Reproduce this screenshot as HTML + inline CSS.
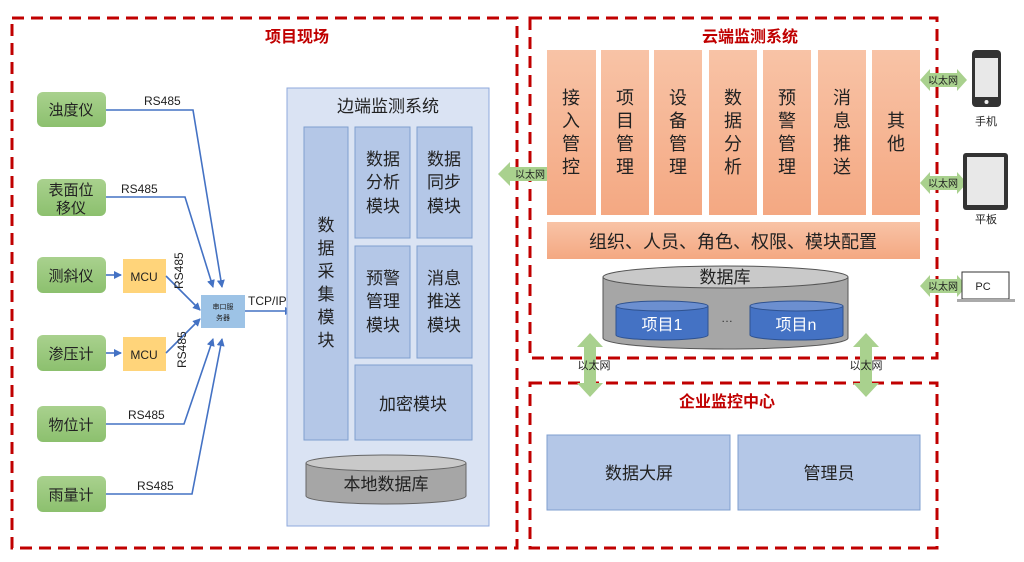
<!DOCTYPE html>
<html><head><meta charset="utf-8"><style>
html,body{margin:0;padding:0;background:#fff;}
svg{display:block;font-family:"Liberation Sans","Noto Sans CJK SC",sans-serif;}
</style></head><body>
<svg width="1024" height="562" viewBox="0 0 1024 562" xmlns="http://www.w3.org/2000/svg">
<defs>
<linearGradient id="gr" x1="0" y1="0" x2="0" y2="1"><stop offset="0" stop-color="#a9d18e"/><stop offset="1" stop-color="#8cc06e"/></linearGradient>
<linearGradient id="or" x1="0" y1="0" x2="0" y2="1"><stop offset="0" stop-color="#f8c3a6"/><stop offset="1" stop-color="#f4a882"/></linearGradient>
<marker id="ah" markerWidth="8" markerHeight="8" refX="7" refY="4" orient="auto" markerUnits="userSpaceOnUse"><path d="M0,0 L8,4 L0,8 z" fill="#4472c4"/></marker>
</defs>
<rect x="0" y="0" width="1024" height="562" fill="#fff"/>
<!-- dashed boxes -->
<g fill="none" stroke="#c00000" stroke-width="3" stroke-dasharray="12,7">
<rect x="12" y="18" width="505" height="530"/>
<rect x="530" y="18" width="407" height="340"/>
<rect x="530" y="383" width="407" height="165"/>
</g>
<g fill="#c00000" font-weight="bold" font-size="16" text-anchor="middle">
<text x="297" y="42">项目现场</text>
<text x="750" y="42">云端监测系统</text>
<text x="727" y="407">企业监控中心</text>
</g>
<!-- sensors -->
<g fill="url(#gr)">
<rect x="37" y="92" width="69" height="35" rx="6"/>
<rect x="37" y="179" width="69" height="37" rx="6"/>
<rect x="37" y="257" width="69" height="36" rx="6"/>
<rect x="37" y="335" width="69" height="36" rx="6"/>
<rect x="37" y="406" width="69" height="36" rx="6"/>
<rect x="37" y="476" width="69" height="36" rx="6"/>
</g>
<g font-size="15" text-anchor="middle" fill="#222">
<text x="71" y="115">浊度仪</text>
<text x="71" y="195">表面位</text><text x="71" y="213">移仪</text>
<text x="71" y="281">测斜仪</text>
<text x="71" y="359">渗压计</text>
<text x="71" y="430">物位计</text>
<text x="71" y="500">雨量计</text>
</g>
<rect x="123" y="259" width="43" height="34" fill="#ffd47a"/>
<rect x="123" y="337" width="43" height="34" fill="#ffd47a"/>
<g font-size="12" text-anchor="middle" fill="#222"><text x="144" y="281">MCU</text><text x="144" y="359">MCU</text></g>
<rect x="201" y="295" width="44" height="33" fill="#9dc3e6"/>
<g font-size="7" text-anchor="middle" fill="#222"><text x="223" y="309">串口服</text><text x="223" y="320">务器</text></g>
<!-- lines -->
<g fill="none" stroke="#4472c4" stroke-width="1.6" marker-end="url(#ah)">
<polyline points="106,110 193,110 222,287"/>
<polyline points="106,197 185,197 213,287"/>
<polyline points="106,275 121,275"/>
<polyline points="106,353 121,353"/>
<polyline points="166,276 200,310"/>
<polyline points="166,353 200,319"/>
<polyline points="106,424 184,424 213,339"/>
<polyline points="106,494 192,494 222,339"/>
<polyline points="245,311 292,311"/>
</g>
<g font-size="12" fill="#222">
<text x="144" y="105">RS485</text>
<text x="121" y="193">RS485</text>
<text x="128" y="419">RS485</text>
<text x="137" y="490">RS485</text>
<text x="248" y="305">TCP/IP</text>
<text transform="translate(183,289) rotate(-90)">RS485</text>
<text transform="translate(186,368) rotate(-90)">RS485</text>
</g>
<!-- edge system -->
<rect x="287" y="88" width="202" height="438" fill="#dae3f3" stroke="#8faadc"/>
<text x="388" y="112" font-size="17" text-anchor="middle" fill="#222">边端监测系统</text>
<g fill="#b4c7e7" stroke="#7f9fcf">
<rect x="304" y="127" width="44" height="313"/>
<rect x="355" y="127" width="55" height="111"/>
<rect x="417" y="127" width="55" height="111"/>
<rect x="355" y="246" width="55" height="112"/>
<rect x="417" y="246" width="55" height="112"/>
<rect x="355" y="365" width="117" height="75"/>
</g>
<g font-size="17" text-anchor="middle" fill="#222">
<text x="326" y="231">数</text><text x="326" y="254">据</text><text x="326" y="277">采</text><text x="326" y="300">集</text><text x="326" y="323">模</text><text x="326" y="346">块</text>
<text x="383" y="165">数据</text><text x="383" y="188">分析</text><text x="383" y="212">模块</text>
<text x="444" y="165">数据</text><text x="444" y="188">同步</text><text x="444" y="212">模块</text>
<text x="383" y="284">预警</text><text x="383" y="307">管理</text><text x="383" y="331">模块</text>
<text x="444" y="284">消息</text><text x="444" y="307">推送</text><text x="444" y="331">模块</text>
<text x="413" y="410">加密模块</text>
</g>
<!-- local db -->
<path d="M306,463 L306,496 A80,8 0 0 0 466,496 L466,463" fill="#a6a6a6" stroke="#666"/>
<ellipse cx="386" cy="463" rx="80" ry="8" fill="#c9c9c9" stroke="#666"/>
<text x="386" y="490" font-size="17" text-anchor="middle" fill="#222">本地数据库</text>
<!-- ethernet arrows horizontal -->
<g fill="#a9d18e">
<polygon points="498,174 510,162 510,167 548,167 548,162 560,174 548,186 548,181 510,181 510,186"/>
<polygon points="920,80 930,69 930,73 957,73 957,69 967,80 957,91 957,87 930,87 930,91"/>
<polygon points="920,183 930,172 930,176 957,176 957,172 967,183 957,194 957,190 930,190 930,194"/>
<polygon points="920,286 930,275 930,279 957,279 957,275 967,286 957,297 957,293 930,293 930,297"/>
<polygon points="590,333 603,347 596,347 596,383 603,383 590,397 577,383 584,383 584,347 577,347"/>
<polygon points="866,333 879,347 872,347 872,383 879,383 866,397 853,383 860,383 860,347 853,347"/>
</g>
<g font-size="10" fill="#222" text-anchor="middle">
<text x="530" y="178">以太网</text>
<text x="943" y="84">以太网</text>
<text x="943" y="187">以太网</text>
<text x="943" y="290">以太网</text>
</g>
<g font-size="11" fill="#222" text-anchor="middle">
<text x="594" y="369">以太网</text><text x="866" y="369">以太网</text>
</g>
<!-- cloud columns -->
<g fill="url(#or)">
<rect x="547" y="50" width="49" height="165"/>
<rect x="601" y="50" width="48" height="165"/>
<rect x="654" y="50" width="48" height="165"/>
<rect x="709" y="50" width="48" height="165"/>
<rect x="763" y="50" width="48" height="165"/>
<rect x="818" y="50" width="48" height="165"/>
<rect x="872" y="50" width="48" height="165"/>
<rect x="547" y="222" width="373" height="37"/>
</g>
<g font-size="18" text-anchor="middle" fill="#222">
<text x="571" y="104">接</text><text x="571" y="127">入</text><text x="571" y="150">管</text><text x="571" y="173">控</text>
<text x="625" y="104">项</text><text x="625" y="127">目</text><text x="625" y="150">管</text><text x="625" y="173">理</text>
<text x="678" y="104">设</text><text x="678" y="127">备</text><text x="678" y="150">管</text><text x="678" y="173">理</text>
<text x="733" y="104">数</text><text x="733" y="127">据</text><text x="733" y="150">分</text><text x="733" y="173">析</text>
<text x="787" y="104">预</text><text x="787" y="127">警</text><text x="787" y="150">管</text><text x="787" y="173">理</text>
<text x="842" y="104">消</text><text x="842" y="127">息</text><text x="842" y="150">推</text><text x="842" y="173">送</text>
<text x="896" y="127">其</text><text x="896" y="150">他</text>
<text x="733" y="248">组织、人员、角色、权限、模块配置</text>
</g>
<!-- cloud db -->
<path d="M603,277 L603,338 A122,11 0 0 0 848,338 L848,277" fill="#a6a6a6" stroke="#555"/>
<ellipse cx="725.5" cy="277" rx="122.5" ry="11" fill="#c9c9c9" stroke="#555"/>
<text x="725" y="283" font-size="17" text-anchor="middle" fill="#222">数据库</text>
<path d="M616,306 L616,335 A46,5 0 0 0 708,335 L708,306" fill="#4472c4" stroke="#2f528f"/>
<ellipse cx="662" cy="306" rx="46" ry="5" fill="#6c8fd0" stroke="#2f528f"/>
<path d="M750,306 L750,335 A46,5 0 0 0 843,335 L843,306" fill="#4472c4" stroke="#2f528f"/>
<ellipse cx="796.5" cy="306" rx="46.5" ry="5" fill="#6c8fd0" stroke="#2f528f"/>
<g font-size="16" text-anchor="middle" fill="#fff"><text x="662" y="330">项目1</text><text x="796" y="330">项目n</text></g>
<text x="727" y="322" font-size="12" text-anchor="middle" fill="#333">…</text>
<!-- bottom boxes -->
<rect x="547" y="435" width="183" height="75" fill="#b4c7e7" stroke="#7f9fcf"/>
<rect x="738" y="435" width="182" height="75" fill="#b4c7e7" stroke="#7f9fcf"/>
<g font-size="17" text-anchor="middle" fill="#222"><text x="639" y="479">数据大屏</text><text x="829" y="479">管理员</text></g>
<!-- devices -->
<rect x="972" y="50" width="29" height="57" rx="4" fill="#333"/>
<rect x="975" y="58" width="23" height="39" fill="#e8e8e8"/>
<circle cx="986.5" cy="102" r="2" fill="#eee"/>
<text x="986" y="125" font-size="11" text-anchor="middle" fill="#222">手机</text>
<rect x="963" y="153" width="45" height="57" rx="3" fill="#333"/>
<rect x="967" y="157" width="37" height="48" fill="#e8e8e8"/>
<text x="986" y="223" font-size="11" text-anchor="middle" fill="#222">平板</text>
<rect x="962" y="272" width="47" height="27" fill="#fff" stroke="#333"/>
<rect x="957" y="299" width="58" height="3" fill="#aaa"/>
<text x="983" y="290" font-size="11" text-anchor="middle" fill="#222">PC</text>
</svg>
</body></html>
